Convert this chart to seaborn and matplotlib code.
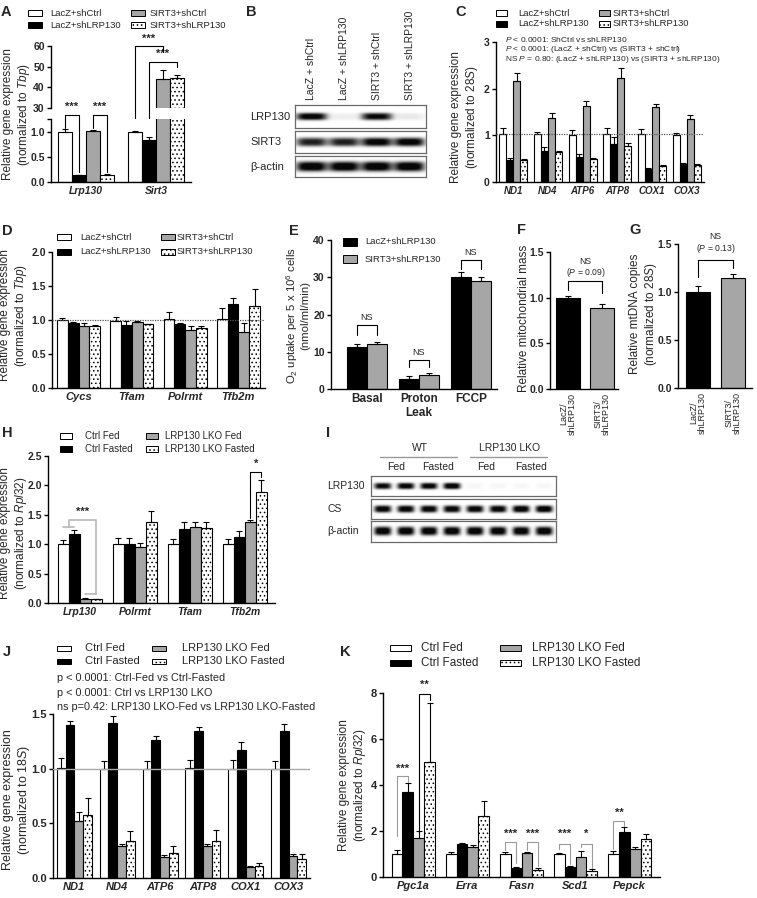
import numpy as np
import pandas as pd
import seaborn as sns
import matplotlib.pyplot as plt
from matplotlib.patches import Rectangle

# ---------------- data ----------------
grp4_a = ['LacZ+shCtrl', 'LacZ+shLRP130', 'SIRT3+shCtrl', 'SIRT3+shLRP130']
grp4_h = ['Ctrl Fed', 'Ctrl Fasted', 'LRP130 LKO Fed', 'LRP130 LKO Fasted']

a_genes = ['Lrp130', 'Sirt3']
a_vals = [[1.00, 1.00], [0.13, 0.84], [1.01, 44.2], [0.14, 44.5]]
a_errs = [[0.05, 0.02], [0.01, 0.05], [0.02, 4.3], [0.01, 1.5]]

b_lanes = ['LacZ + shCtrl', 'LacZ + shLRP130', 'SIRT3 + shCtrl', 'SIRT3 + shLRP130']
b_rows = ['LRP130', 'SIRT3', 'β-actin']
b_lrp130 = [0.95, 0.06, 0.90, 0.08]
b_sirt3 = [0.80, 0.80, 0.95, 0.95]
b_actin = [1.00, 1.00, 1.00, 1.00]

c_genes = ['ND1', 'ND4', 'ATP6', 'ATP8', 'COX1', 'COX3']
c_vals = [[1.02, 1.02, 1.01, 1.02, 1.02, 1.00],
          [0.47, 0.67, 0.54, 0.82, 0.27, 0.39],
          [2.17, 1.38, 1.63, 2.22, 1.60, 1.35],
          [0.47, 0.64, 0.50, 0.78, 0.35, 0.37]]
c_errs = [[0.13, 0.05, 0.10, 0.14, 0.12, 0.06],
          [0.05, 0.08, 0.07, 0.15, 0.03, 0.02],
          [0.17, 0.10, 0.10, 0.23, 0.07, 0.08],
          [0.02, 0.02, 0.02, 0.05, 0.01, 0.02]]

d_genes = ['Cycs', 'Tfam', 'Polrmt', 'Tfb2m']
d_vals = [[1.00, 0.99, 1.01, 1.02], [0.96, 0.93, 0.94, 1.23],
          [0.91, 0.97, 0.86, 0.82], [0.91, 0.94, 0.88, 1.20]]
d_errs = [[0.03, 0.05, 0.11, 0.16], [0.01, 0.05, 0.02, 0.09],
          [0.04, 0.02, 0.05, 0.14], [0.01, 0.00, 0.03, 0.25]]

e_cond = ['Basal', 'Proton\nLeak', 'FCCP']
e_groups = ['LacZ+shLRP130', 'SIRT3+shLRP130']
e_vals = [[11.2, 2.8, 30.0], [12.0, 3.8, 29.0]]
e_errs = [[0.8, 0.7, 1.5], [0.7, 0.4, 1.0]]

fg_cats = ['LacZ/\nshLRP130', 'SIRT3/\nshLRP130']
f_vals = [1.00, 0.89]
f_errs = [0.02, 0.04]
g_vals = [1.00, 1.15]
g_errs = [0.06, 0.04]

h_genes = ['Lrp130', 'Polrmt', 'Tfam', 'Tfb2m']
h_vals = [[1.00, 1.01, 1.01, 1.01], [1.17, 1.00, 1.26, 1.12],
          [0.07, 0.96, 1.29, 1.38], [0.06, 1.37, 1.28, 1.88]]
h_errs = [[0.07, 0.10, 0.08, 0.08], [0.08, 0.10, 0.12, 0.10],
          [0.01, 0.06, 0.09, 0.04], [0.01, 0.20, 0.10, 0.21]]

i_rows = ['LRP130', 'CS', 'β-actin']
i_lrp130 = [0.90, 0.95, 0.95, 1.00, 0.03, 0.03, 0.03, 0.03]
i_cs = [0.95, 0.95, 0.95, 0.95, 0.95, 0.95, 1.00, 1.00]
i_actin = [1.00, 1.00, 1.00, 1.00, 1.00, 1.00, 1.00, 1.00]

j_genes = ['ND1', 'ND4', 'ATP6', 'ATP8', 'COX1', 'COX3']
j_vals = [[1.01, 1.00, 1.00, 1.01, 1.00, 1.00],
          [1.40, 1.42, 1.26, 1.34, 1.17, 1.34],
          [0.52, 0.29, 0.19, 0.29, 0.10, 0.20],
          [0.58, 0.34, 0.23, 0.34, 0.11, 0.17]]
j_errs = [[0.09, 0.07, 0.07, 0.07, 0.08, 0.07],
          [0.04, 0.06, 0.04, 0.04, 0.07, 0.07],
          [0.08, 0.02, 0.02, 0.02, 0.01, 0.02],
          [0.15, 0.09, 0.06, 0.10, 0.03, 0.05]]

k_genes = ['Pgc1a', 'Erra', 'Fasn', 'Scd1', 'Pepck']
k_vals = [[1.02, 1.00, 1.02, 1.02, 1.02], [3.70, 1.45, 0.40, 0.45, 1.97],
          [1.70, 1.30, 1.05, 0.88, 1.23], [4.98, 2.65, 0.32, 0.28, 1.65]]
k_errs = [[0.16, 0.10, 0.08, 0.02, 0.10], [0.39, 0.05, 0.03, 0.03, 0.20],
          [0.29, 0.10, 0.05, 0.27, 0.07], [2.60, 0.67, 0.08, 0.06, 0.23]]

# ---------------- style ----------------
W, H = 757, 898
sns.set_theme(style='ticks')
plt.rcParams['font.family'] = ['Liberation Sans', 'DejaVu Sans']
plt.rcParams['mathtext.fontset'] = 'custom'
plt.rcParams['mathtext.rm'] = 'Liberation Sans'
plt.rcParams['mathtext.it'] = 'Liberation Sans:italic'
plt.rcParams['mathtext.bf'] = 'Liberation Sans:bold'
plt.rcParams['hatch.linewidth'] = 0.6
plt.rcParams['hatch.color'] = '#222222'

GRAY = '#a6a6a6'
FACES = ['white', 'black', GRAY, 'white']
HATCH = [None, None, None, '....']
YFS = 7.5

fig = plt.figure(figsize=(W / 100, H / 100), dpi=100)
fig.patch.set_facecolor('white')


def add_ax(l, t, r, b):
    return fig.add_axes([l / W, 1 - b / H, (r - l) / W, (b - t) / H])


canvas = fig.add_axes([0, 0, 1, 1], zorder=20)
canvas.set_xlim(0, W)
canvas.set_ylim(H, 0)
canvas.axis('off')
canvas.patch.set_alpha(0)


def txt(x, y, s, fs=7, **kw):
    kw.setdefault('ha', 'center')
    kw.setdefault('va', 'center')
    canvas.text(x, y, s, fontsize=fs, **kw)


def grouped(ax, cats, groups, vals, errs, faces, hatches, width, lw=0.8):
    rows = [(c, g, v) for g, vs in zip(groups, vals) for c, v in zip(cats, vs)]
    df = pd.DataFrame(rows, columns=['cat', 'grp', 'val'])
    sns.barplot(data=df, x='cat', y='val', hue='grp', order=cats, hue_order=groups,
                palette=dict(zip(groups, faces)), width=width, gap=0, saturation=1,
                edgecolor='black', linewidth=lw, errorbar=None, legend=False, ax=ax, zorder=2)
    conts = list(ax.containers)
    for h, cont in enumerate(conts):
        for i, p in enumerate(cont):
            if hatches[h]:
                p.set_hatch(hatches[h])
            xc = p.get_x() + p.get_width() / 2
            ax.errorbar(xc, p.get_height(), yerr=[[0], [errs[h][i]]], fmt='none', ecolor='black',
                        elinewidth=0.8, capsize=2.2, capthick=0.8, zorder=3)


def style_ax(ax, ylim, yticks, yfmt, xlim, xlabels, xfs=7.5, italic=True, yfs=YFS):
    ax.set_ylim(*ylim)
    ax.set_yticks(yticks)
    ax.set_yticklabels([yfmt.format(t) for t in yticks], fontsize=yfs, fontweight='bold')
    ax.set_xlim(*xlim)
    ax.set_xticks(range(len(xlabels)))
    ax.set_xticklabels(xlabels, fontsize=xfs, fontweight='bold', style='italic' if italic else 'normal')
    ax.set_xlabel('')
    ax.set_ylabel('')
    sns.despine(ax=ax)
    ax.tick_params(axis='y', length=3, width=1, pad=1.5, color='black')
    ax.tick_params(axis='x', length=0, pad=3)
    for s in ax.spines.values():
        s.set_linewidth(1)
        s.set_color('black')


def pos(cat, h, width, n=4):
    return cat + (h - (n - 1) / 2) * width / n


def bracket(ax, x1, x2, y1, ytop, y2, s='', ty=None, color='black', fs=8, bold=True, lw=0.8):
    ax.plot([x1, x1, x2, x2], [y1, ytop, ytop, y2], color=color, lw=lw, clip_on=False, zorder=5)
    if s:
        ax.text((x1 + x2) / 2, ty, s, ha='center', va='center', fontsize=fs,
                fontweight='bold' if bold else 'normal', clip_on=False)


def legend(boxx, textx, rows_y, labels, styles, fs=7, bw=14, bh=6):
    nrow = len(rows_y)
    for k, lab in enumerate(labels):
        c, r = divmod(k, nrow)
        fc, ht = styles[k]
        canvas.add_patch(Rectangle((boxx[c], rows_y[r] - bh / 2), bw, bh, facecolor=fc,
                                   edgecolor='black', hatch=ht, lw=0.7))
        canvas.text(textx[c], rows_y[r], lab, fontsize=fs, va='center', ha='left')


def blot(ax, inten, thick, width):
    n = len(inten)
    xs = np.linspace(0, n, n * 40)
    ys = np.linspace(0, 1, 50)
    X, Y = np.meshgrid(xs, ys)
    dark = np.zeros_like(X)
    for i, a in enumerate(inten):
        dark += a * np.exp(-np.abs((X - i - 0.5) / width) ** 4) * np.exp(-np.abs((Y - 0.5) / thick) ** 3)
    img = 1 - 0.97 * np.clip(dark * 1.15, 0, 1)
    ax.imshow(img, cmap='gray', vmin=0, vmax=1, aspect='auto', extent=(0, n, 0, 1),
              interpolation='bilinear')
    ax.set_xticks([])
    ax.set_yticks([])
    for s in ax.spines.values():
        s.set_visible(True)
        s.set_color('#6a6a6a')
        s.set_linewidth(0.9)


STY4 = list(zip(FACES, HATCH))

# ---------------- A (broken axis) ----------------
axA_up = add_ax(51, 46, 191, 108)
axA_lo = add_ax(51, 119, 191, 182)
for ax in (axA_up, axA_lo):
    grouped(ax, a_genes, grp4_a, a_vals, a_errs, FACES, HATCH, 0.8)
style_ax(axA_lo, (0, 1.25), [0, 0.5, 1.0, 1.25], '{:.1f}', (-0.5, 1.5), a_genes)
axA_lo.set_yticklabels(['0.0', '0.5', '1.0', ''])
style_ax(axA_up, (30, 60), [30, 40, 50, 60], '{:.0f}', (-0.5, 1.5), a_genes)
axA_up.spines['bottom'].set_visible(False)
axA_up.set_xticks([])
bracket(axA_lo, pos(0, 0, .8), pos(0, 1, .8), 1.08, 1.33, 0.2, '***', 1.5)
bracket(axA_lo, pos(0, 2, .8), pos(0, 3, .8), 1.08, 1.33, 0.2, '***', 1.5)
bracket(axA_up, pos(1, 0, .8), pos(1, 2, .8), 20.8, 60, 57.1, '***', 63.5)
bracket(axA_up, pos(1, 1, .8), pos(1, 3, .8), 20.3, 52.3, 49.8, '***', 56)
txt(6, 12, 'A', 10.5, fontweight='bold')
legend([28, 131], [50, 150], [13, 25], grp4_a, STY4, fs=6.8)
txt(17, 114, 'Relative gene expression\n(normalized to $\\mathit{Tbp}$)', 8.5, rotation=90,
    linespacing=1.1)

# ---------------- B (blot) ----------------
for k, (inten, th) in enumerate([(b_lrp130, 0.16), (b_sirt3, 0.2), (b_actin, 0.24)]):
    top = [105, 131, 156][k]
    bot = [128, 153, 177][k]
    blot(add_ax(295, top, 426, bot), inten, th, 0.47)
    txt(250, (top + bot) / 2, b_rows[k], 8, ha='left')
for k, lab in enumerate(b_lanes):
    txt(311 + 33 * k, 100, lab, 7.5, rotation=90, va='bottom')
txt(251, 12, 'B', 10.5, fontweight='bold')

# ---------------- C ----------------
axC = add_ax(496, 42, 704, 182)
grouped(axC, c_genes, grp4_a, c_vals, c_errs, FACES, HATCH, 0.81)
style_ax(axC, (0, 3), [0, 1, 2, 3], '{:.0f}', (-0.5, 5.5), c_genes, xfs=7)
axC.axhline(1.03, color='#555555', ls=(0, (1, 1)), lw=0.9, zorder=4)
txt(461, 12, 'C', 10.5, fontweight='bold')
legend([496, 599], [518, 613], [13, 24], grp4_a, STY4, fs=6.8, bw=11)
txt(465, 117, 'Relative gene expression\n(normalized to $\\mathit{28S}$)', 8.5, rotation=90,
    linespacing=1.1)
for k, s in enumerate(['$P$ < 0.0001: ShCtrl vs shLRP130',
                       '$P$ < 0.0001: (LacZ + shCtrl) vs (SIRT3 + shCtrl)',
                       'NS $P$ = 0.80: (LacZ + shLRP130) vs (SIRT3 + shLRP130)']):
    txt(505, 40 + 9.8 * k, s, 6.0, ha='left')

# ---------------- D ----------------
axD = add_ax(52, 252, 265, 388)
grouped(axD, d_genes, grp4_a, d_vals, d_errs, FACES, HATCH, 0.81)
style_ax(axD, (0, 2), [0, 0.5, 1.0, 1.5, 2.0], '{:.1f}', (-0.5, 3.5), d_genes, xfs=8)
axD.axhline(1.0, color='#555555', ls=(0, (1, 1)), lw=0.9, zorder=4)
txt(7, 231, 'D', 10.5, fontweight='bold')
legend([57, 161], [80, 177], [237, 252], grp4_a, STY4, fs=6.8)
txt(14, 315, 'Relative gene expression\n(normalized to $\\mathit{Tbp}$)', 8.5, rotation=90,
    linespacing=1.1)

# ---------------- E ----------------
axE = add_ax(331, 240, 497, 389)
grouped(axE, e_cond, e_groups, e_vals, e_errs, ['black', GRAY], [None, None], 0.77)
style_ax(axE, (0, 40), [0, 10, 20, 30, 40], '{:.0f}', (-0.69, 2.5), e_cond, xfs=8.5, italic=False)
for c, (y1, yt, ty) in enumerate([(14.5, 17.2, 19.2), (5.8, 7.8, 9.8), (32.3, 34.6, 36.6)]):
    bracket(axE, pos(c, 0, .77, 2), pos(c, 1, .77, 2), y1, yt, y1, 'NS', ty, fs=6.5, bold=False)
txt(294, 231, 'E', 10.5, fontweight='bold')
legend([343], [365], [242, 259], e_groups, [('black', None), (GRAY, None)], fs=6.8, bh=8)
txt(297, 315, 'O$_2$ uptake per 5 x 10$^6$ cells\n(nmol/ml/min)', 8.2, rotation=90,
    linespacing=1.05)

# ---------------- F, G ----------------
for (l, t, r, b, vals, errs, xl, br, lab, letter, lx, ylab) in [
        (550, 252, 618, 389, f_vals, f_errs, (-0.54, 1.46), (1.08, 1.186, 1.05, 1.40, 1.28, '0.09'),
         'F', (521, 230), 524, 'Relative mitochondrial mass'),
        (678, 244, 752, 388, g_vals, g_errs, (-0.57, 1.54), (1.16, 1.333, 1.25, 1.575, 1.455, '0.13'),
         'G', (635, 230), 644, 'Relative mtDNA copies\n(normalized to $\\mathit{28S}$)')]:
    ax = add_ax(l, t, r, b)
    sns.barplot(x=fg_cats, y=vals, hue=fg_cats, palette=['black', GRAY], width=0.7, saturation=1,
                edgecolor='black', linewidth=0.8, legend=False, ax=ax, zorder=2)
    bars = sorted(ax.patches, key=lambda p: p.get_x())
    for p, e in zip(bars, errs):
        ax.errorbar(p.get_x() + p.get_width() / 2, p.get_height(), yerr=[[0], [e]], fmt='none',
                    ecolor='black', elinewidth=0.8, capsize=2.2, capthick=0.8, zorder=3)
    style_ax(ax, (0, 1.5), [0, 0.5, 1.0, 1.5], '{:.1f}', xl, fg_cats, italic=False)
    ax.set_xticklabels(fg_cats, rotation=90, fontsize=6.5, fontweight='normal', linespacing=0.95,
                       va='top')
    y1, yt, y2, tns, tp, pv = br
    bracket(ax, 0, 1, y1, yt, y2)
    ax.text(0.5, tns, 'NS', ha='center', va='center', fontsize=6.2, clip_on=False)
    ax.text(0.5, tp, '($P$ = %s)' % pv, ha='center', va='center', fontsize=6.2, clip_on=False)
    txt(letter[0], letter[1], lab, 10.5, fontweight='bold')
    txt(lx, (t + b) / 2 - 2, ylab, 8.5, rotation=90, linespacing=1.1)

# ---------------- H ----------------
axH = add_ax(48, 456, 275, 603)
grouped(axH, h_genes, grp4_h, h_vals, h_errs, FACES, HATCH, 0.8)
style_ax(axH, (0, 2.5), [0, 0.5, 1.0, 1.5, 2.0, 2.5], '{:.1f}', (-0.58, 3.55), h_genes)
lg = '#b8b8b8'
cx = (pos(0, 0, .8) + pos(0, 1, .8)) / 2
axH.plot([pos(0, 0, .8), pos(0, 1, .8)], [1.29, 1.29], color=lg, lw=1.2, zorder=5)
axH.plot([pos(0, 2, .8), pos(0, 3, .8)], [0.15, 0.15], color=lg, lw=1.2, zorder=5)
bracket(axH, cx, pos(0, 3, .8), 1.29, 1.41, 0.15, '***', 1.55, color=lg, lw=1.2)
bracket(axH, pos(3, 2, .8), pos(3, 3, .8), 1.45, 2.23, 2.14, '*', 2.36)
txt(7, 433, 'H', 10.5, fontweight='bold')
legend([60, 146], [85, 165], [436, 449], grp4_h, STY4, fs=7, bw=12)
txt(14, 533, 'Relative gene expression\n(normalized to $\\mathit{Rpl32}$)', 8.5, rotation=90,
    linespacing=1.1)

# ---------------- I (blot) ----------------
for k, (inten, th) in enumerate([(i_lrp130, 0.16), (i_cs, 0.18), (i_actin, 0.2)]):
    top = [476, 499, 521][k]
    bot = [496, 519, 542][k]
    blot(add_ax(371, top, 556, bot), inten, th, 0.37)
    txt(327, (top + bot) / 2, i_rows[k], 7.5, ha='left')
txt(328, 433, 'I', 10.5, fontweight='bold')
txt(420, 448, 'WT', 7.5)
txt(510, 448, 'LRP130 LKO', 7.5)
canvas.plot([380, 457], [457, 457], color='#999999', lw=1)
canvas.plot([470, 547], [457, 457], color='#999999', lw=1)
for x, s in zip([396, 438, 486, 531], ['Fed', 'Fasted', 'Fed', 'Fasted']):
    txt(x, 467, s, 7.5)

# ---------------- J ----------------
axJ = add_ax(53, 714, 310, 878)
grouped(axJ, j_genes, grp4_h, j_vals, j_errs, FACES, HATCH, 0.82)
style_ax(axJ, (0, 1.5), [0, 0.5, 1.0, 1.5], '{:.1f}', (-0.5, 5.5), j_genes, xfs=8, yfs=8)
axJ.axhline(1.0, color='#aaaaaa', lw=1, zorder=4)
txt(7, 652, 'J', 10.5, fontweight='bold')
legend([57, 152], [85, 182], [648, 661], grp4_h, STY4, fs=8, bw=14, bh=5)
for k, s in enumerate(['p < 0.0001: Ctrl-Fed vs Ctrl-Fasted',
                       'p < 0.0001: Ctrl vs LRP130 LKO',
                       'ns p=0.42: LRP130 LKO-Fed vs LRP130 LKO-Fasted']):
    txt(57, 678 + 14.5 * k, s, 7.8, ha='left')
txt(17, 800, 'Relative gene expression\n(normalized to $\\mathit{18S}$)', 9, rotation=90,
    linespacing=1.1)

# ---------------- K ----------------
axK = add_ax(383, 693, 660, 877)
grouped(axK, k_genes, grp4_h, k_vals, k_errs, FACES, HATCH, 0.8)
style_ax(axK, (0, 8), [0, 2, 4, 6, 8], '{:.0f}', (-0.56, 4.56), k_genes, xfs=8, yfs=8)
kg = '#9a9a9a'
bracket(axK, pos(0, 0, .8), pos(0, 1, .8), 1.77, 4.38, 4.12, '***', 4.72, color=kg)
bracket(axK, pos(0, 2, .8), pos(0, 3, .8), 1.91, 7.97, 7.71, '**', 8.35)
bracket(axK, pos(2, 0, .8), pos(2, 1, .8), 1.19, 1.51, 0.61, '***', 1.88, color=kg)
bracket(axK, pos(2, 2, .8), pos(2, 3, .8), 1.19, 1.51, 0.49, '***', 1.88, color=kg)
bracket(axK, pos(3, 0, .8), pos(3, 1, .8), 1.22, 1.45, 0.58, '***', 1.88, color=kg)
bracket(axK, pos(3, 2, .8), pos(3, 3, .8), 1.30, 1.45, 0.39, '*', 1.88, color=kg)
bracket(axK, pos(4, 0, .8), pos(4, 1, .8), 1.22, 2.42, 2.20, '**', 2.80, color=kg)
txt(345, 652, 'K', 10.5, fontweight='bold')
legend([390, 500], [421, 532], [648, 663], grp4_h, STY4, fs=8.5, bw=21, bh=6)
txt(353, 785, 'Relative gene expression\n(normalized to $\\mathit{Rpl32}$)', 8.5, rotation=90,
    linespacing=1.1)

fig.savefig('out.png', dpi=100, facecolor='white')
